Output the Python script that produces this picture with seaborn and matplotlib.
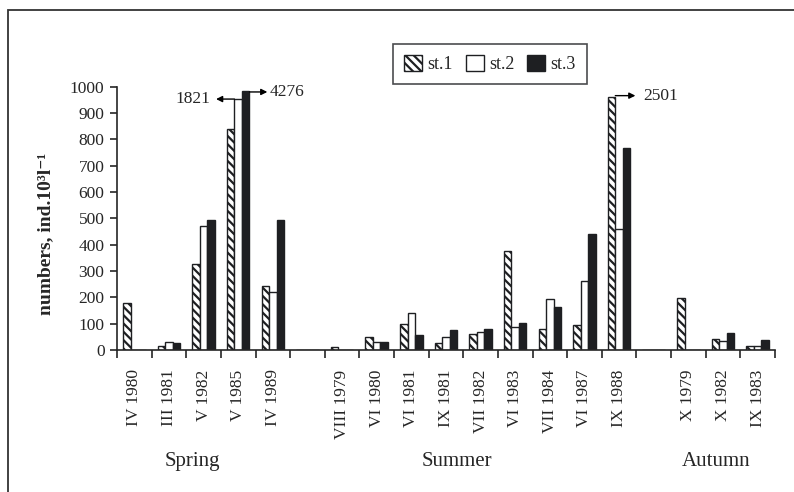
import numpy as np
import pandas as pd
import seaborn as sns
import matplotlib.pyplot as plt
import matplotlib.transforms as mtransforms
from matplotlib.patches import Rectangle

# sampling dates (blank names leave a gap between seasons)
dates = ["IV 1980", "III 1981", "V 1982", "V 1985", "IV 1989", " ",
         "VIII 1979", "VI 1980", "VI 1981", "IX 1981", "VII 1982", "VI 1983",
         "VII 1984", "VI 1987", "IX 1988", "  ", "X 1979", "X 1982", "IX 1983"]
stations = ["st.1", "st.2", "st.3"]

# values as drawn (bars above 1000 are cut, true value written beside them)
st1 = [178, 14, 328, 838, 243, 0, 10, 48, 99, 28, 61, 375, 79, 95, 962, 0, 196, 41, 15]
st2 = [0, 32, 471, 952, 222, 0, 0, 30, 140, 51, 69, 87, 193, 262, 461, 0, 0, 36, 15]
st3 = [0, 28, 492, 982, 495, 0, 0, 30, 56, 76, 81, 102, 165, 441, 766, 0, 0, 64, 38]

seasons = ["Spring", "Summer", "Autumn"]
season_x = [1.67, 9.33, 16.81]

df = pd.DataFrame({"date": dates * 3,
                   "station": np.repeat(stations, len(dates)),
                   "value": st1 + st2 + st3})

sns.set_style("ticks")
plt.rcParams["font.family"] = ["Liberation Serif", "DejaVu Serif"]
plt.rcParams["hatch.linewidth"] = 1.6

fig = plt.figure(figsize=(7.94, 4.92), dpi=100)
ax = fig.add_axes([0.1474, 0.2886, 0.8286, 0.5352])

sns.barplot(data=df, x="date", y="value", hue="station", order=dates,
            hue_order=stations, palette=["white", "white", "#1e1f22"],
            width=0.65, gap=0, edgecolor="#1e1f22", linewidth=1,
            errorbar=None, ax=ax)
for bar in ax.containers[0]:
    bar.set_hatch("\\\\\\\\")

ax.set_ylim(0, 1000)
ax.set_xlim(-0.5, len(dates) - 0.5)
ax.set_yticks(range(0, 1001, 100))
ax.set_xticks(range(len(dates)))
ax.set_xticklabels(dates, rotation=90, fontsize=12.5)
ax.tick_params(axis="x", which="major", length=0, pad=14)
ax.set_xticks(np.arange(-0.5, len(dates)), minor=True)
ax.tick_params(axis="x", which="minor", length=6, width=1.2, direction="out")
ax.tick_params(axis="y", labelsize=12.5, length=5, width=1.2, pad=4)
for s in ["left", "bottom"]:
    ax.spines[s].set_linewidth(1.2)
sns.despine(ax=ax)
ax.set_xlabel("")
ax.set_ylabel("numbers, ind.10³l⁻¹", fontsize=14, fontweight="bold")
ax.yaxis.set_label_coords(-0.095, 0.44)

# cut-off bars
arrow = dict(arrowstyle="-|>", color="black", lw=1, mutation_scale=9,
             shrinkA=0, shrinkB=0)
ax.annotate("", xy=(2.36, 953), xytext=(2.89, 953), arrowprops=arrow)
ax.text(2.19, 953, "1821", fontsize=12.5, ha="right", va="center")
ax.annotate("", xy=(3.84, 980), xytext=(3.325, 980), arrowprops=arrow)
ax.text(3.92, 980, "4276", fontsize=12.5, ha="left", va="center")
ax.annotate("", xy=(14.47, 966), xytext=(13.89, 966), arrowprops=arrow)
ax.text(14.7, 966, "2501", fontsize=12.5, ha="left", va="center")

# season names
trans = mtransforms.blended_transform_factory(ax.transData, fig.transFigure)
for name, x in zip(seasons, season_x):
    fig.text(x, 0.063, name, transform=trans, fontsize=15, ha="center", va="center")

handles = [ax.containers[i].patches[0] for i in range(3)]
leg = ax.legend(handles, stations, loc="upper center", ncol=3,
                bbox_to_anchor=(0.617, 0.91), bbox_transform=fig.transFigure,
                fontsize=13, frameon=True, fancybox=False, handlelength=1,
                handleheight=1, handletextpad=0.3, columnspacing=0.7,
                borderpad=0.6, borderaxespad=0)
leg.get_frame().set_edgecolor("#1e1f22")
leg.get_frame().set_linewidth(1.2)

# outer frame
fig.patches.append(Rectangle((0.0105, -0.1), 1.2, 1.08, transform=fig.transFigure,
                             fill=False, edgecolor="#333333", linewidth=1.3))

fig.savefig("out.png", dpi=100)
